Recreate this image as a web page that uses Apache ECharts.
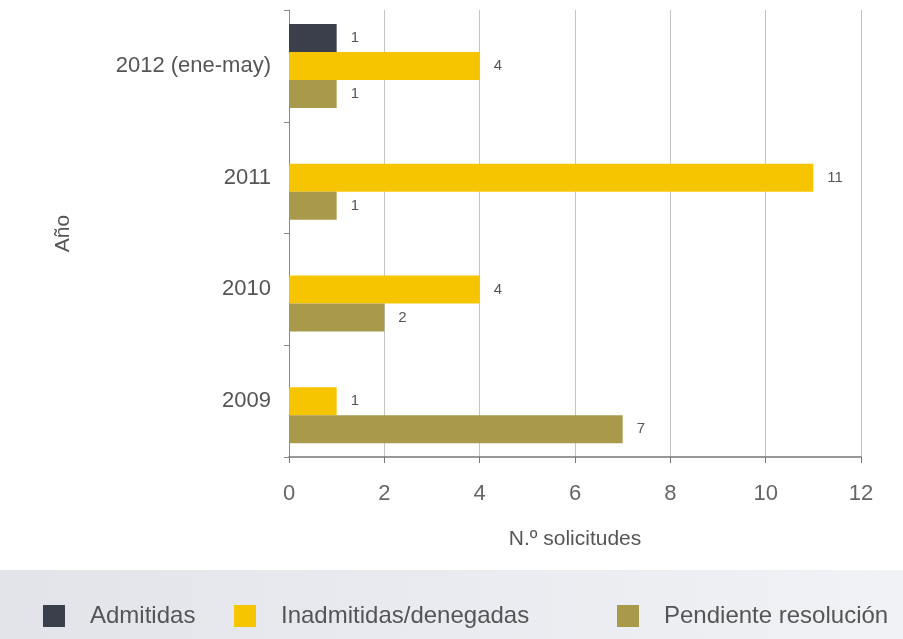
<!DOCTYPE html>
<html>
<head>
<meta charset="utf-8">
<script src="https://cdn.jsdelivr.net/npm/echarts@6/dist/echarts.min.js"></script>
<style>
  html, body { margin: 0; padding: 0; background: #fff; }
  #main { width: 903px; height: 639px; }
</style>
</head>
<body>
<div id="main"></div>
<script>
// categorias (de abajo a arriba)
var anos = ['2009', '2010', '2011', '2012 (ene-may)'];
// series
var admitidas = [null, null, null, 1];
var inadmitidas = [1, 4, 11, 4];
var pendiente = [7, 2, 1, 1];
var ticksX = [0, 2, 4, 6, 8, 10, 12];
var nombres = ['Admitidas', 'Inadmitidas/denegadas', 'Pendiente resolución'];

var colores = ['#3b3f4b', '#f7c400', '#a89a4a'];

var myChart = echarts.init(document.getElementById('main'));

var etiqueta = {
    show: true,
    position: 'right',
    distance: 14,
    color: '#555',
    fontSize: 15
};

// una leyenda por serie para fijar la posicion de cada una
var leyendaX = [38, 229, 612];
var leyendas = [];
for (var i = 0; i < nombres.length; i++) {
    leyendas.push({
        left: leyendaX[i],
        top: 599,
        itemWidth: 22,
        itemHeight: 22,
        icon: 'rect',
        textStyle: { color: '#555', fontSize: 24, lineHeight: 24, padding: [0, 0, 0, 20] },
        data: [nombres[i]]
    });
}

var option = {
    animation: false,
    textStyle: { fontFamily: 'Liberation Sans' },
    grid: {
        left: 289,
        right: 42,
        top: 10,
        bottom: 182
    },
    graphic: [{
        type: 'rect',
        left: 0,
        top: 570,
        shape: { width: 903, height: 69 },
        style: {
            fill: new echarts.graphic.LinearGradient(0, 0, 1, 0, [
                { offset: 0, color: '#e2e4ea' },
                { offset: 1, color: '#f1f2f6' }
            ])
        },
        z: -1
    }],
    legend: leyendas,
    xAxis: {
        type: 'value',
        min: 0,
        max: 12,
        interval: 2,
        name: 'N.º solicitudes',
        nameLocation: 'middle',
        nameGap: 72,
        nameTextStyle: { color: '#555', fontSize: 21 },
        axisLine: { show: true, lineStyle: { color: '#777', width: 1.5 } },
        axisTick: { show: true, length: 6, lineStyle: { color: '#777' } },
        axisLabel: {
            color: '#666',
            fontSize: 22,
            margin: 26,
            formatter: function (v) { return ticksX.indexOf(v) >= 0 ? String(v) : ''; }
        },
        splitLine: { show: true, lineStyle: { color: '#c4c4c4', width: 1 } }
    },
    yAxis: {
        type: 'category',
        data: anos,
        name: 'Año',
        nameLocation: 'middle',
        nameGap: 215,
        nameRotate: 90,
        nameTextStyle: { color: '#555', fontSize: 21 },
        axisLine: { show: true, lineStyle: { color: '#888' } },
        axisTick: { show: true, length: 5, lineStyle: { color: '#888' } },
        axisLabel: { color: '#555', fontSize: 22, margin: 18 }
    },
    series: [{
        name: nombres[0],
        type: 'bar',
        data: admitidas,
        barWidth: 28,
        barGap: '0%',
        itemStyle: { color: colores[0] },
        label: etiqueta
    }, {
        name: nombres[1],
        type: 'bar',
        data: inadmitidas,
        barWidth: 28,
        barGap: '0%',
        itemStyle: { color: colores[1] },
        label: etiqueta
    }, {
        name: nombres[2],
        type: 'bar',
        data: pendiente,
        barWidth: 28,
        barGap: '0%',
        itemStyle: { color: colores[2] },
        label: etiqueta
    }]
};

myChart.setOption(option);
</script>
</body>
</html>
